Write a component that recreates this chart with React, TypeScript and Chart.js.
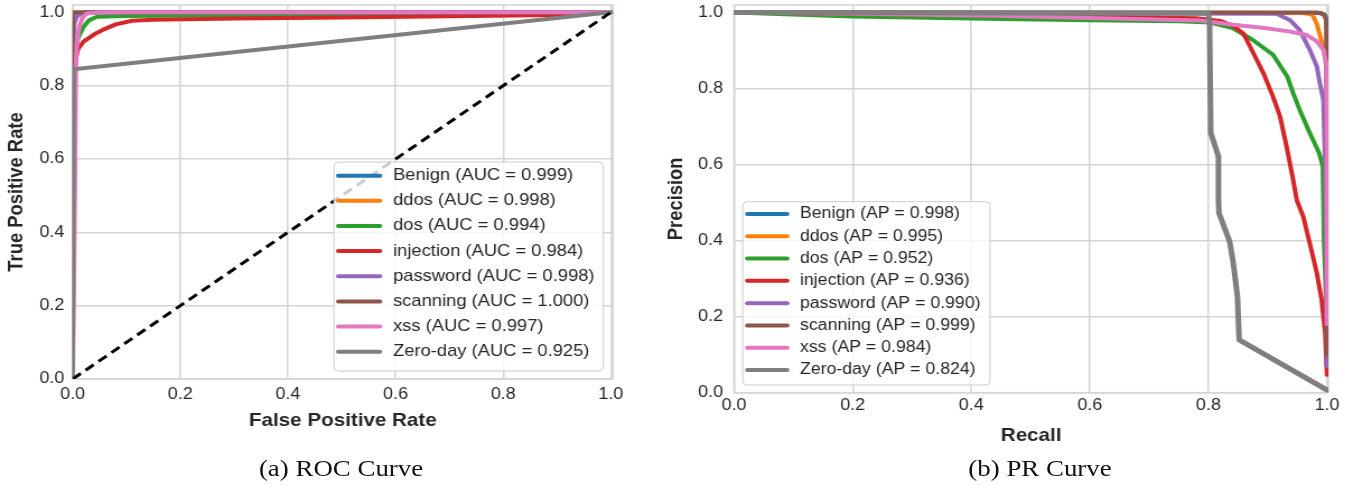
import React, { useEffect, useRef } from "react";
import { Chart, registerables } from "chart.js";

Chart.register(...registerables);

// ---------- data ----------
const classNames = ["Benign", "ddos", "dos", "injection", "password", "scanning", "xss", "Zero-day"];
const rocAuc = ["0.999", "0.998", "0.994", "0.984", "0.998", "1.000", "0.997", "0.925"];
const prAp = ["0.998", "0.995", "0.952", "0.936", "0.990", "0.999", "0.984", "0.824"];
const axisTicks = [0, 0.2, 0.4, 0.6, 0.8, 1.0];

// ROC curves: [false positive rate, true positive rate]
const rocBenign = [[0, 0], [0, 0.9], [0.002, 0.97], [0.005, 0.99], [0.02, 0.998], [0.05, 1], [1, 1]];
const rocDdos = [[0, 0], [0, 0.95], [0.003, 0.99], [0.01, 0.997], [0.03, 1], [1, 1]];
const rocDos = [[0, 0], [0.001, 0.8], [0.005, 0.9], [0.01, 0.93], [0.02, 0.96], [0.03, 0.978], [0.045, 0.988], [0.1, 0.99], [0.3, 0.992], [0.6, 0.995], [1, 1]];
const rocInjection = [[0, 0], [0.002, 0.8], [0.005, 0.87], [0.01, 0.9], [0.02, 0.92], [0.04, 0.94], [0.06, 0.955], [0.08, 0.967], [0.11, 0.977], [0.15, 0.98], [0.3, 0.983], [0.5, 0.986], [0.7, 0.989], [0.9, 0.993], [1, 1]];
const rocPassword = [[0, 0], [0, 0.9], [0.003, 0.97], [0.008, 0.99], [0.02, 1], [1, 1]];
const rocScanning = [[0, 0], [0, 1], [1, 1]];
const rocXss = [[0, 0], [0.004, 0.5], [0.006, 0.85], [0.008, 0.92], [0.012, 0.96], [0.018, 0.985], [0.026, 0.997], [0.05, 1], [1, 1]];
const rocZeroDay = [[0, 0], [0.002, 0.845], [1, 1]];
const rocChance = [[0, 0], [1, 1]];

// PR curves: [recall, precision]
const prBenign = [[0, 1], [0.99, 0.999], [0.998, 0.99], [1.0, 0.95], [1.0, 0.07]];
const prDdos = [[0, 1], [0.96, 0.999], [0.975, 0.995], [0.983, 0.97], [0.99, 0.93], [0.995, 0.9], [1.0, 0.85], [1.0, 0.12]];
const prDos = [[0, 1], [0.2, 0.99], [0.45, 0.983], [0.6, 0.98], [0.75, 0.977], [0.803, 0.974], [0.841, 0.959], [0.875, 0.928], [0.909, 0.889], [0.933, 0.832], [0.943, 0.788], [0.954, 0.744], [0.971, 0.683], [0.987, 0.63], [0.993, 0.595], [0.995, 0.4], [1.0, 0.18]];
const prInjection = [[0, 1], [0.3, 0.995], [0.6, 0.99], [0.78, 0.985], [0.82, 0.978], [0.842, 0.965], [0.859, 0.945], [0.876, 0.893], [0.893, 0.84], [0.909, 0.779], [0.921, 0.726], [0.932, 0.647], [0.943, 0.56], [0.949, 0.507], [0.96, 0.463], [0.971, 0.393], [0.983, 0.314], [0.991, 0.244], [0.997, 0.156], [1.0, 0.047]];
const prPassword = [[0, 1], [0.915, 0.997], [0.938, 0.98], [0.954, 0.954], [0.971, 0.902], [0.983, 0.858], [0.988, 0.814], [0.994, 0.77], [0.997, 0.6], [0.999, 0.3], [1.0, 0.07]];
const prScanning = [[0, 1], [0.985, 1.0], [0.995, 0.995], [0.999, 0.98], [1.0, 0.9], [1.0, 0.1]];
const prXss = [[0, 1], [0.2, 0.997], [0.44, 0.992], [0.6, 0.986], [0.786, 0.979], [0.842, 0.968], [0.898, 0.959], [0.938, 0.95], [0.966, 0.941], [0.983, 0.924], [0.994, 0.902], [0.9995, 0.858], [1.0, 0.18]];
const prZeroDay = [[0, 1.0], [0.5, 0.999], [0.8, 0.998], [0.802, 0.972], [0.804, 0.683], [0.809, 0.66], [0.817, 0.621], [0.817, 0.507], [0.818, 0.472], [0.836, 0.397], [0.842, 0.341], [0.849, 0.253], [0.852, 0.139], [1.0, 0.007]];

const rocSeries = [rocBenign, rocDdos, rocDos, rocInjection, rocPassword, rocScanning, rocXss, rocZeroDay];
const prSeries = [prBenign, prDdos, prDos, prInjection, prPassword, prScanning, prXss, prZeroDay];

// ---------- styles ----------
const palette = ["#1f77b4", "#ff7f0e", "#2ca02c", "#d62728", "#9467bd", "#8c564b", "#e377c2", "#7f7f7f"];
const SANS = '"Liberation Sans", Arial, Helvetica, sans-serif';
const SERIF = '"Liberation Serif", "Times New Roman", Times, serif';
const STRETCH = 1.12;
const TEXT = "#262626";
const GRID = "#d4d4d4";

const rocLayout = {
  x0: 0, width: 585, height: 460, left: 64.9, right: 547.3, top: 5, bottom: 379, xMax: 1.004,
  yTickPad: 7.5, xTickPad: 6, yTitlePad: 4.2, xTitlePad: 28.5,
  legend: { box: [298.2, 162, 538.7, 371], line: [302, 339.3], textX: 350.9, firstRow: 175.7, rowStep: 25.14, font: 16.4 },
};
const prLayout = {
  x0: 585, width: 624, height: 460, left: 70.4, right: 601, top: 5, bottom: 392.7, xMax: 1.0023,
  yTickPad: 9.8, xTickPad: 3.5, yTitlePad: 7.6, xTitlePad: 13.5,
  legend: { box: [78.1, 201.7, 298.9, 385], line: [82.2, 117.9], textX: 129.3, firstRow: 214, rowStep: 22.29, font: 15.8 },
};

const frameLegendPlugin = {
  id: "frameLegend",
  beforeDatasetsDraw(chart: any) {
    const { ctx, chartArea: a } = chart;
    ctx.save();
    ctx.strokeStyle = GRID;
    ctx.lineWidth = 1.5;
    ctx.strokeRect(a.left, a.top, a.right - a.left, a.bottom - a.top);
    ctx.restore();
  },
  afterDraw(chart: any, _args: any, opts: any) {
    const { ctx } = chart;
    const L = opts.legend;
    if (!L) return;
    const [bx0, by0, bx1, by1] = L.box;
    ctx.save();
    ctx.beginPath();
    if (ctx.roundRect) ctx.roundRect(bx0, by0, bx1 - bx0, by1 - by0, 4);
    else ctx.rect(bx0, by0, bx1 - bx0, by1 - by0);
    ctx.fillStyle = "rgba(255,255,255,0.8)";
    ctx.fill();
    ctx.strokeStyle = "#cccccc";
    ctx.lineWidth = 1;
    ctx.stroke();
    ctx.font = `${L.font}px ${SANS}`;
    ctx.textBaseline = "middle";
    ctx.textAlign = "left";
    opts.items.forEach((it: any, i: number) => {
      const y = L.firstRow + i * L.rowStep;
      ctx.beginPath();
      ctx.strokeStyle = it.color;
      ctx.lineWidth = 4;
      ctx.lineCap = "round";
      ctx.moveTo(L.line[0], y);
      ctx.lineTo(L.line[1], y);
      ctx.stroke();
      ctx.fillStyle = TEXT;
      ctx.fillText(it.text, L.textX, y);
    });
    ctx.restore();
  },
};

function makeConfig(layout: any, datasets: any[], xTitle: string, yTitle: string, items: any[]) {
  const H = layout.height;
  return {
    type: "line",
    data: { datasets },
    plugins: [frameLegendPlugin],
    options: {
      animation: false,
      responsive: false,
      devicePixelRatio: 1,
      events: [],
      layout: { padding: { left: 0, top: layout.top, right: layout.width - layout.right, bottom: 0 } },
      plugins: {
        legend: { display: false },
        tooltip: { enabled: false },
        frameLegend: { legend: layout.legend, items },
      },
      scales: {
        x: {
          type: "linear",
          min: 0,
          max: layout.xMax,
          afterFit: (s: any) => {
            s.height = H - layout.bottom;
            s.paddingLeft = 0; s.paddingRight = 0; s.paddingTop = 0; s.paddingBottom = 0;
          },
          afterBuildTicks: (s: any) => { s.ticks = axisTicks.map((v) => ({ value: v })); },
          ticks: {
            callback: (v: any) => Number(v).toFixed(1),
            font: { family: SANS, size: 16 },
            color: TEXT,
            padding: layout.xTickPad,
            maxRotation: 0,
            autoSkip: false,
          },
          grid: { color: GRID, lineWidth: 1.5, drawTicks: false },
          border: { display: false },
          title: {
            display: true, text: xTitle, color: TEXT,
            font: { family: SANS, size: 18.4, weight: "bold" },
            padding: { top: 0, bottom: layout.xTitlePad },
          },
        },
        y: {
          type: "linear",
          min: 0,
          max: 1.02,
          afterFit: (s: any) => {
            s.width = layout.left;
            s.paddingLeft = 0; s.paddingRight = 0; s.paddingTop = 0; s.paddingBottom = 0;
          },
          afterBuildTicks: (s: any) => { s.ticks = axisTicks.map((v) => ({ value: v })); },
          ticks: {
            callback: (v: any) => Number(v).toFixed(1),
            font: { family: SANS, size: 16 },
            color: TEXT,
            padding: layout.yTickPad,
            autoSkip: false,
          },
          grid: { color: GRID, lineWidth: 1.5, drawTicks: false },
          border: { display: false },
          title: {
            display: true, text: yTitle, color: TEXT,
            font: { family: SANS, size: 18.4, weight: "bold" },
            padding: { top: layout.yTitlePad, bottom: 0 },
          },
        },
      },
    },
  };
}

const toPoints = (arr: number[][]) => arr.map(([x, y]) => ({ x, y }));

function CurveChart(props: { layout: any; datasets: any[]; xTitle: string; yTitle: string; items: any[] }) {
  const ref = useRef<HTMLCanvasElement>(null);
  const { layout } = props;
  useEffect(() => {
    if (!ref.current) return;
    const chart = new Chart(ref.current, makeConfig(layout, props.datasets, props.xTitle, props.yTitle, props.items) as any);
    return () => chart.destroy();
  }, []);
  return (
    <canvas
      ref={ref}
      width={layout.width}
      height={layout.height}
      style={{ position: "absolute", left: layout.x0, top: 0, width: layout.width + "px", height: layout.height + "px" }}
    />
  );
}

function seriesDatasets(series: number[][][], widths: number[]) {
  return series.map((s, i) => ({
    label: classNames[i],
    data: toPoints(s),
    borderColor: palette[i],
    backgroundColor: palette[i],
    borderWidth: widths[i],
    pointRadius: 0,
    pointHoverRadius: 0,
    fill: false,
    tension: 0,
    borderJoinStyle: "round",
    borderCapStyle: "round",
    order: series.length - i,
  }));
}

export default function App() {
  const rocDatasets = [
    ...seriesDatasets(rocSeries, [4, 4, 4, 4, 4, 4, 4, 4]),
    {
      label: "chance",
      data: toPoints(rocChance),
      borderColor: "#000000",
      borderWidth: 3,
      borderDash: [9, 5.5],
      pointRadius: 0,
      fill: false,
      order: -1,
    },
  ];
  const prDatasets = seriesDatasets(prSeries, [4, 4, 4, 4, 4, 4, 4, 5]);
  const rocItems = classNames.map((n, i) => ({ text: `${n} (AUC = ${rocAuc[i]})`, color: palette[i] }));
  const prItems = classNames.map((n, i) => ({ text: `${n} (AP = ${prAp[i]})`, color: palette[i] }));

  const captionStyle = (center: number): React.CSSProperties => ({
    position: "absolute",
    left: center - 200,
    width: 400,
    top: 456,
    textAlign: "center",
    fontFamily: SERIF,
    fontSize: "24px",
    lineHeight: "24px",
    color: "#111",
    whiteSpace: "nowrap",
  });

  return (
    <div
      style={{
        position: "absolute",
        left: 0,
        top: 0,
        width: 1354 / STRETCH,
        height: 484,
        transform: `scaleX(${STRETCH})`,
        transformOrigin: "0 0",
        background: "#ffffff",
        overflow: "hidden",
      }}
    >
      <CurveChart layout={rocLayout} datasets={rocDatasets} xTitle="False Positive Rate" yTitle="True Positive Rate" items={rocItems} />
      <CurveChart layout={prLayout} datasets={prDatasets} xTitle="Recall" yTitle="Precision" items={prItems} />
      <div style={captionStyle(304.5)}>(a) ROC Curve</div>
      <div style={captionStyle(928.6)}>(b) PR Curve</div>
    </div>
  );
}
